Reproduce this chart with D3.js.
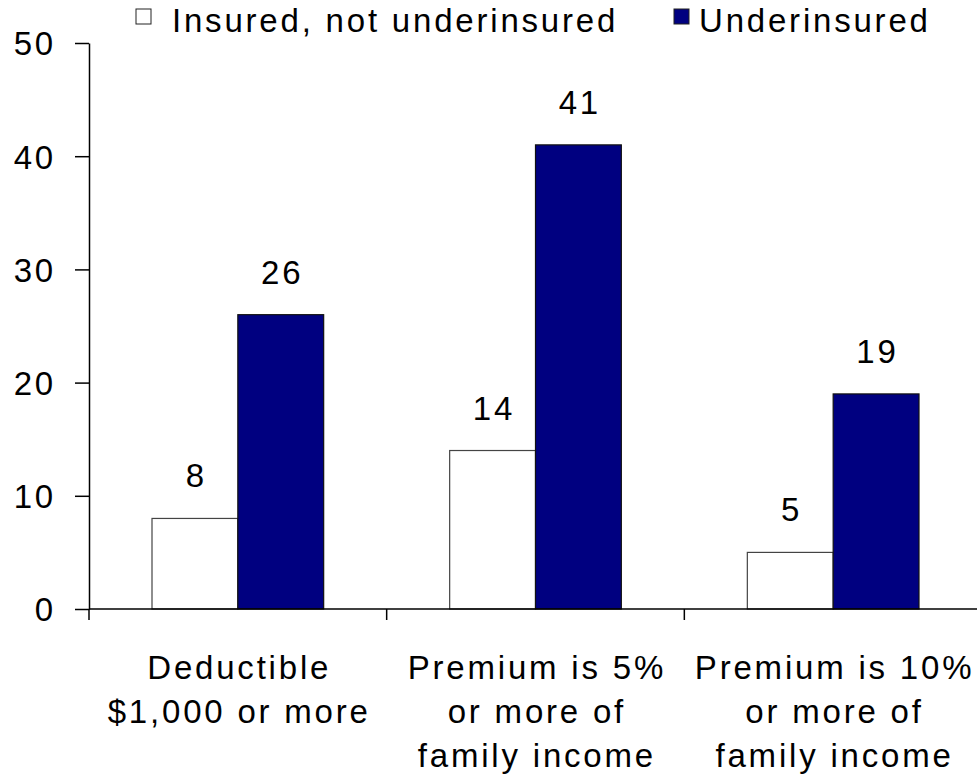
<!DOCTYPE html>
<html>
<head>
<meta charset="utf-8">
<script src="https://cdn.jsdelivr.net/npm/d3@7"></script>
<style>
  html, body { margin: 0; padding: 0; background: #fff; }
  svg { display: block; }
  text { font-family: "Liberation Sans", Arial, sans-serif; fill: #000; }
</style>
</head>
<body>
<svg id="chart" width="977" height="779"></svg>
<script>
// Share of adults by insurance status, per cost-burden measure
const categories = [
  ["Deductible", "$1,000 or more"],
  ["Premium is 5%", "or more of", "family income"],
  ["Premium is 10%", "or more of", "family income"]
];
const seriesNames = ["Insured, not underinsured", "Underinsured"];
const insuredValues = [8, 14, 5];
const underinsuredValues = [26, 41, 19];
const yTicks = [0, 10, 20, 30, 40, 50];
const seriesColors = ["#ffffff", "#000080"];

const svg = d3.select("#chart");
const fontSize = 33;
const spacing = "2.8px";

const x0 = d3.scaleBand().domain(d3.range(categories.length)).range([89, 982]).paddingInner(0).paddingOuter(0);
const x1 = d3.scaleBand().domain([0, 1]).range([63, x0.bandwidth() - 63]);
const y = d3.scaleLinear().domain([0, 50]).range([609, 43]);

const rows = categories.map((c, i) => ({
  idx: i,
  vals: [insuredValues[i], underinsuredValues[i]]
}));

// bars
const groups = svg.append("g").selectAll("g").data(rows).join("g")
  .attr("transform", d => `translate(${x0(d.idx)},0)`);

groups.selectAll("rect").data(d => d.vals.map((v, s) => ({ v, s }))).join("rect")
  .attr("x", d => x1(d.s))
  .attr("y", d => y(d.v))
  .attr("width", x1.bandwidth())
  .attr("height", d => y(0) - y(d.v))
  .attr("fill", d => seriesColors[d.s])
  .attr("stroke", d => d.s === 0 ? "#444" : "#111")
  .attr("stroke-width", 1.2);

// value labels
groups.selectAll("text.val").data(d => d.vals.map((v, s) => ({ v, s }))).join("text")
  .attr("class", "val")
  .attr("x", d => x1(d.s) + x1.bandwidth() / 2 + 1.4)
  .attr("y", d => y(d.v) - 31)
  .attr("text-anchor", "middle")
  .attr("font-size", fontSize)
  .attr("letter-spacing", spacing)
  .text(d => d.v);

// y axis
const yAxis = svg.append("g").attr("transform", "translate(89,0)")
  .call(d3.axisLeft(y).tickValues(yTicks).tickSize(14).tickPadding(19).tickSizeOuter(0));
yAxis.select(".domain").attr("stroke", "#000").attr("stroke-width", 1.5);
yAxis.selectAll(".tick line").attr("stroke", "#000").attr("stroke-width", 1.5);
yAxis.selectAll(".tick text")
  .attr("font-size", fontSize)
  .attr("font-family", "Liberation Sans, Arial, sans-serif")
  .attr("letter-spacing", spacing)
  .attr("dy", "0.36em")
  .attr("fill", "#000");

// x axis with category separators
const xAxisG = svg.append("g");
xAxisG.append("line")
  .attr("x1", 89).attr("x2", 982).attr("y1", y(0)).attr("y2", y(0))
  .attr("stroke", "#000").attr("stroke-width", 1.5);
const sepTicks = d3.range(categories.length + 1).map(i => i === categories.length ? x0.range()[1] : x0(i));
xAxisG.selectAll("line.sep").data(sepTicks).join("line")
  .attr("class", "sep")
  .attr("x1", d => d).attr("x2", d => d)
  .attr("y1", y(0)).attr("y2", y(0) + 11)
  .attr("stroke", "#000").attr("stroke-width", 1.5);

// category labels
const catLabels = svg.append("g").selectAll("text").data(rows).join("text")
  .attr("x", d => x0(d.idx) + x0.bandwidth() / 2 + 1.4)
  .attr("y", 679)
  .attr("text-anchor", "middle")
  .attr("font-size", fontSize)
  .attr("letter-spacing", spacing);
catLabels.selectAll("tspan").data(d => categories[d.idx]).join("tspan")
  .attr("x", function () { return d3.select(this.parentNode).attr("x"); })
  .attr("dy", (d, i) => i === 0 ? 0 : 44)
  .text(d => d);

// legend
const legendX = [136, 674];
const legend = svg.append("g").selectAll("g").data(seriesNames).join("g")
  .attr("transform", (d, i) => `translate(${legendX[i]},0)`);
legend.append("rect")
  .attr("x", 0).attr("y", 9).attr("width", 15).attr("height", 15)
  .attr("fill", (d, i) => seriesColors[i])
  .attr("stroke", "#222").attr("stroke-width", 1);
legend.append("text")
  .attr("x", (d, i) => i === 0 ? 36 : 25)
  .attr("y", 32)
  .attr("font-size", fontSize)
  .attr("letter-spacing", spacing)
  .text(d => d);
</script>
</body>
</html>
